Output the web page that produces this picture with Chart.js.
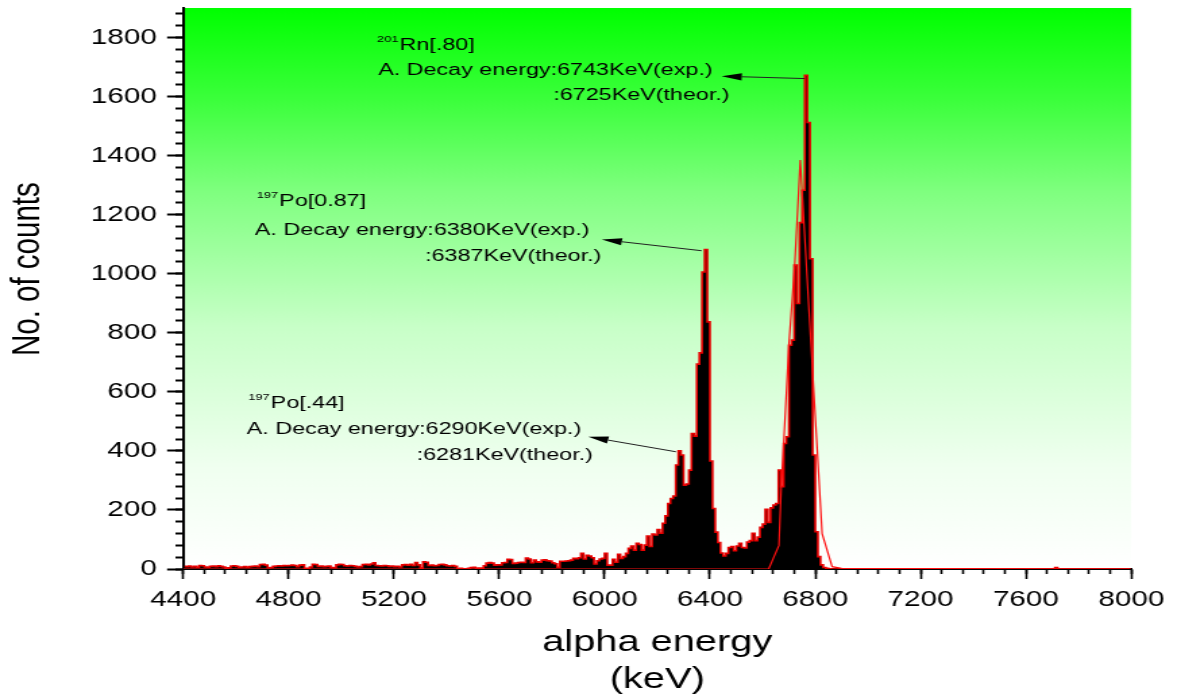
<!DOCTYPE html>
<html><head><meta charset="utf-8">
<script src="https://cdn.jsdelivr.net/npm/chart.js@4.4.0/dist/chart.umd.min.js"></script>
<style>html,body{margin:0;padding:0;background:#fff;overflow:hidden}
#c{display:block}</style></head>
<body><canvas id="c" width="875" height="699" style="width:1181px;height:699px"></canvas>
<script>
// ---------------- data ----------------
const BIN_START = 4400;   // keV, left edge of first bin
const BIN_WIDTH = 10;     // keV
const counts = [
  9, 8, 10, 7, 9, 6, 12, 11, 7, 6,
  9, 10, 8, 11, 9, 7, 3, 4, 10, 11,
  9, 6, 7, 8, 6, 8, 9, 10, 8, 15,
  16, 13, 4, 5, 9, 10, 11, 10, 12, 11,
  12, 13, 12, 8, 13, 14, 2, 2, 7, 16,
  15, 9, 10, 8, 9, 10, 5, 4, 14, 16,
  15, 11, 10, 12, 11, 9, 7, 8, 15, 16,
  14, 17, 21, 12, 11, 10, 12, 11, 9, 10,
  8, 9, 7, 14, 15, 13, 16, 12, 22, 14,
  3, 24, 23, 12, 13, 11, 12, 15, 16, 14,
  11, 10, 12, 9, 1, 2, 1, 1, 2, 5,
  6, 2, 3, 3, 11, 20, 22, 20, 13, 14,
  14, 21, 22, 33, 32, 19, 20, 22, 23, 22,
  37, 34, 21, 30, 24, 23, 30, 31, 28, 27,
  21, 18, 6, 26, 26, 27, 28, 30, 36, 35,
  38, 53, 34, 46, 44, 38, 17, 28, 34, 36,
  53, 13, 13, 33, 23, 50, 36, 42, 53, 70,
  78, 64, 87, 83, 64, 81, 112, 76, 118, 115,
  134, 121, 155, 180, 222, 239, 247, 352, 400, 386,
  284, 288, 335, 459, 450, 694, 732, 1006, 1082, 837,
  366, 205, 125, 90, 54, 44, 53, 73, 76, 62,
  78, 87, 73, 71, 91, 96, 121, 96, 108, 141,
  152, 202, 158, 207, 217, 222, 335, 279, 425, 448,
  758, 775, 1029, 899, 1173, 1283, 1672, 1512, 1051, 386,
  126, 42, 14, 5, 2, 1, 0, 0, 0, 0,
  0, 0, 0, 0, 0, 0, 0, 0, 1, 0,
  0, 0, 0, 0, 0, 0, 0, 0, 0, 0,
  0, 0, 0, 0, 0, 0, 0, 0, 0, 0,
  0, 0, 0, 0, 0, 0, 0, 1, 0, 0,
  0, 0, 0, 0, 0, 0, 0, 0, 0, 0,
  0, 0, 0, 0, 0, 0, 0, 0, 0, 1,
  0, 0, 0, 0, 0, 0, 0, 0, 0, 0,
  1, 0, 0, 0, 0, 0, 0, 0, 0, 0,
  0, 5, 0, 0, 0, 0, 0, 0, 0, 0,
  0, 0, 0, 0, 0, 0, 0, 0, 0, 0,
  0, 0, 0, 0, 0, 0, 0, 0, 0, 0
];
const fitEnergy = [4400, 6623, 6662, 6671, 6680, 6700, 6722, 6743, 6776, 6809, 6826, 6864, 6900, 8000];
const fitCounts = [0, 0, 80, 280, 425, 760, 1030, 1385, 880, 380, 120, 8, 2, 0];

const xMajorTicks = [4400, 4800, 5200, 5600, 6000, 6400, 6800, 7200, 7600, 8000];
const yMajorTicks = [0, 200, 400, 600, 800, 1000, 1200, 1400, 1600, 1800];
const X_MINOR_STEP = 80, Y_MINOR_STEP = 40;

const noteSup   = ['201', '197', '197'];
const noteHead  = ['Rn[.80]', 'Po[0.87]', 'Po[.44]'];
const noteExp   = ['A. Decay energy:6743KeV(exp.)', 'A. Decay energy:6380KeV(exp.)', 'A. Decay energy:6290KeV(exp.)'];
const noteTheor = [':6725KeV(theor.)', ':6387KeV(theor.)', ':6281KeV(theor.)'];

// ---------------- layout / style ----------------
const K = 1.35;                       // horizontal stretch of the picture
const W = Math.round(1181 / K);
const canvas = document.getElementById('c');
canvas.width = W; canvas.height = 699;
const FONT = '"Liberation Sans", Arial, sans-serif';
const target = {left: 183.3 / K, right: 1131.5 / K, top: 8, bottom: 569};

// note anchors in data units [keV, counts]
const noteLayout = [
  {head: [5136, 1759], exp: [5140, 1672], theor: [5805, 1588], tip: [6444, 1669], tail: [6760, 1661]},
  {head: [4679, 1229], exp: [4672, 1131], theor: [5318, 1043], tip: [5989, 1116], tail: [6368, 1078]},
  {head: [4647, 544],  exp: [4641, 457],  theor: [5286, 369],  tip: [5938, 448],  tail: [6271, 397]}
];

const histData = counts.map((c, i) => ({x: BIN_START + BIN_WIDTH * (i + 0.5), y: c}));
const fitData = fitEnergy.map((e, i) => ({x: e, y: fitCounts[i]}));

const bgPlugin = {
  id: 'bg',
  beforeDraw(chart) {
    const {ctx, chartArea: a} = chart;
    const g = ctx.createLinearGradient(0, a.top, 0, a.bottom);
    g.addColorStop(0, 'rgb(0,255,0)');
    g.addColorStop(0.165, 'rgb(60,255,60)');
    g.addColorStop(0.33, 'rgb(128,255,128)');
    g.addColorStop(0.57, 'rgb(200,255,200)');
    g.addColorStop(0.82, 'rgb(240,255,240)');
    g.addColorStop(1, 'rgb(255,255,255)');
    ctx.save();
    ctx.fillStyle = g;
    ctx.fillRect(a.left, a.top, a.right - a.left, a.bottom - a.top);
    ctx.restore();
  }
};

const notePlugin = {
  id: 'notes',
  afterDatasetsDraw(chart) {
    const {ctx, scales: {x, y}} = chart;
    const px = p => [x.getPixelForValue(p[0]), y.getPixelForValue(p[1])];
    ctx.save();
    ctx.fillStyle = '#000';
    ctx.textAlign = 'left';
    ctx.textBaseline = 'alphabetic';
    noteLayout.forEach((L, i) => {
      const [hx, hy] = px(L.head);
      ctx.font = '9.5px ' + FONT;
      ctx.fillText(noteSup[i], hx, hy - 8);
      const sw = ctx.measureText(noteSup[i]).width;
      ctx.font = '17.3px ' + FONT;
      ctx.fillText(noteHead[i], hx + sw + 0.8, hy);
      const [ex, ey] = px(L.exp);
      ctx.fillText(noteExp[i], ex, ey);
      const [tx, ty] = px(L.theor);
      ctx.fillText(noteTheor[i], tx, ty);
      // arrow
      const [ax, ay] = px(L.tip);
      const [bx, by] = px(L.tail);
      const ang = Math.atan2(ay - by, ax - bx);
      const hl = 15, hw = 3.6;
      const baseX = ax - hl * Math.cos(ang), baseY = ay - hl * Math.sin(ang);
      ctx.strokeStyle = '#222';
      ctx.lineWidth = 1;
      ctx.beginPath();
      ctx.moveTo(bx, by);
      ctx.lineTo(baseX, baseY);
      ctx.stroke();
      ctx.beginPath();
      ctx.moveTo(ax, ay);
      ctx.lineTo(baseX + hw * Math.sin(ang), baseY - hw * Math.cos(ang));
      ctx.lineTo(baseX - hw * Math.sin(ang), baseY + hw * Math.cos(ang));
      ctx.closePath();
      ctx.fill();
    });
    ctx.restore();
  }
};

const pad = {left: 0, right: W - target.right, top: target.top, bottom: 0};

const config = {
  type: 'line',
  data: {
    datasets: [
      {
        label: 'fit', data: fitData, xAxisID: 'x', yAxisID: 'y',
        borderColor: '#ff1010', borderWidth: 1.2, pointRadius: 0, fill: false, tension: 0, order: 0
      },
      {
        label: 'counts', data: histData, xAxisID: 'x', yAxisID: 'y',
        stepped: 'middle', borderColor: '#e80000', borderWidth: 1.6, backgroundColor: '#000',
        fill: 'origin', pointRadius: 0, tension: 0, order: 1
      }
    ]
  },
  options: {
    responsive: false,
    animation: false,
    events: [],
    layout: {padding: pad},
    plugins: {legend: {display: false}, tooltip: {enabled: false}, title: {display: false}},
    scales: {
      x: {
        type: 'linear', position: 'bottom', min: 4400, max: 8000,
        afterBuildTicks: s => { s.ticks = xMajorTicks.map(v => ({value: v})); },
        afterFit: s => { s.height = 699 - target.bottom; s.paddingLeft = 0; s.paddingRight = 0; s.paddingTop = 0; s.paddingBottom = 0; },
        ticks: {callback: v => String(v), font: {family: FONT, size: 22}, color: '#000', padding: 8, maxRotation: 0, autoSkip: false},
        grid: {drawOnChartArea: false, drawTicks: true, tickLength: 10, tickWidth: 1.6, tickColor: '#000'},
        border: {display: true, color: '#000', width: 2},
        title: {display: true, text: ['alpha energy', '(keV)'], color: '#000',
                font: {family: FONT, size: 29.5, lineHeight: 1.254}, padding: {top: 0, bottom: 0.5}}
      },
      y: {
        type: 'linear', position: 'left', min: 0, max: 1900,
        afterBuildTicks: s => { s.ticks = yMajorTicks.map(v => ({value: v})); },
        afterFit: s => { s.width = target.left; s.paddingLeft = 0; s.paddingRight = 0; s.paddingTop = 0; s.paddingBottom = 0; },
        ticks: {callback: v => String(v), font: {family: FONT, size: 22}, color: '#000', padding: 7.5, autoSkip: false},
        grid: {drawOnChartArea: false, drawTicks: true, tickLength: 12, tickWidth: 2, tickColor: '#000'},
        border: {display: true, color: '#000', width: 2},
        title: {display: true, text: '    \u2009No. of counts', color: '#000',
                font: {family: FONT, size: 29.5, lineHeight: 1.2}, padding: {top: 2.7, bottom: 0}}
      },
      xMinor: {
        type: 'linear', position: {y: 0}, min: 4400, max: 8000,
        afterFit: s => { s.paddingLeft = 0; s.paddingRight = 0; s.paddingTop = 0; s.paddingBottom = 0; },
        ticks: {display: false, stepSize: X_MINOR_STEP, maxTicksLimit: 1000, includeBounds: false},
        grid: {drawOnChartArea: false, drawTicks: true, tickLength: 5, tickWidth: 1.6, tickColor: '#000'},
        border: {display: false}
      },
      yMinor: {
        type: 'linear', position: {x: 4400}, min: 0, max: 1900,
        afterFit: s => { s.paddingLeft = 0; s.paddingRight = 0; s.paddingTop = 0; s.paddingBottom = 0; },
        ticks: {display: false, stepSize: Y_MINOR_STEP, maxTicksLimit: 1000, includeBounds: false},
        grid: {drawOnChartArea: false, drawTicks: true, tickLength: 6, tickWidth: 2, tickColor: '#000'},
        border: {display: false}
      }
    }
  },
  plugins: [bgPlugin, notePlugin]
};

const chart = new Chart(canvas, config);
for (let k = 0; k < 3; k++) {
  const ca = chart.chartArea;
  pad.right += ca.right - target.right;
  pad.top += target.top - ca.top;
  pad.left += target.left - ca.left;
  chart.update('none');
}
</script>
</body></html>
